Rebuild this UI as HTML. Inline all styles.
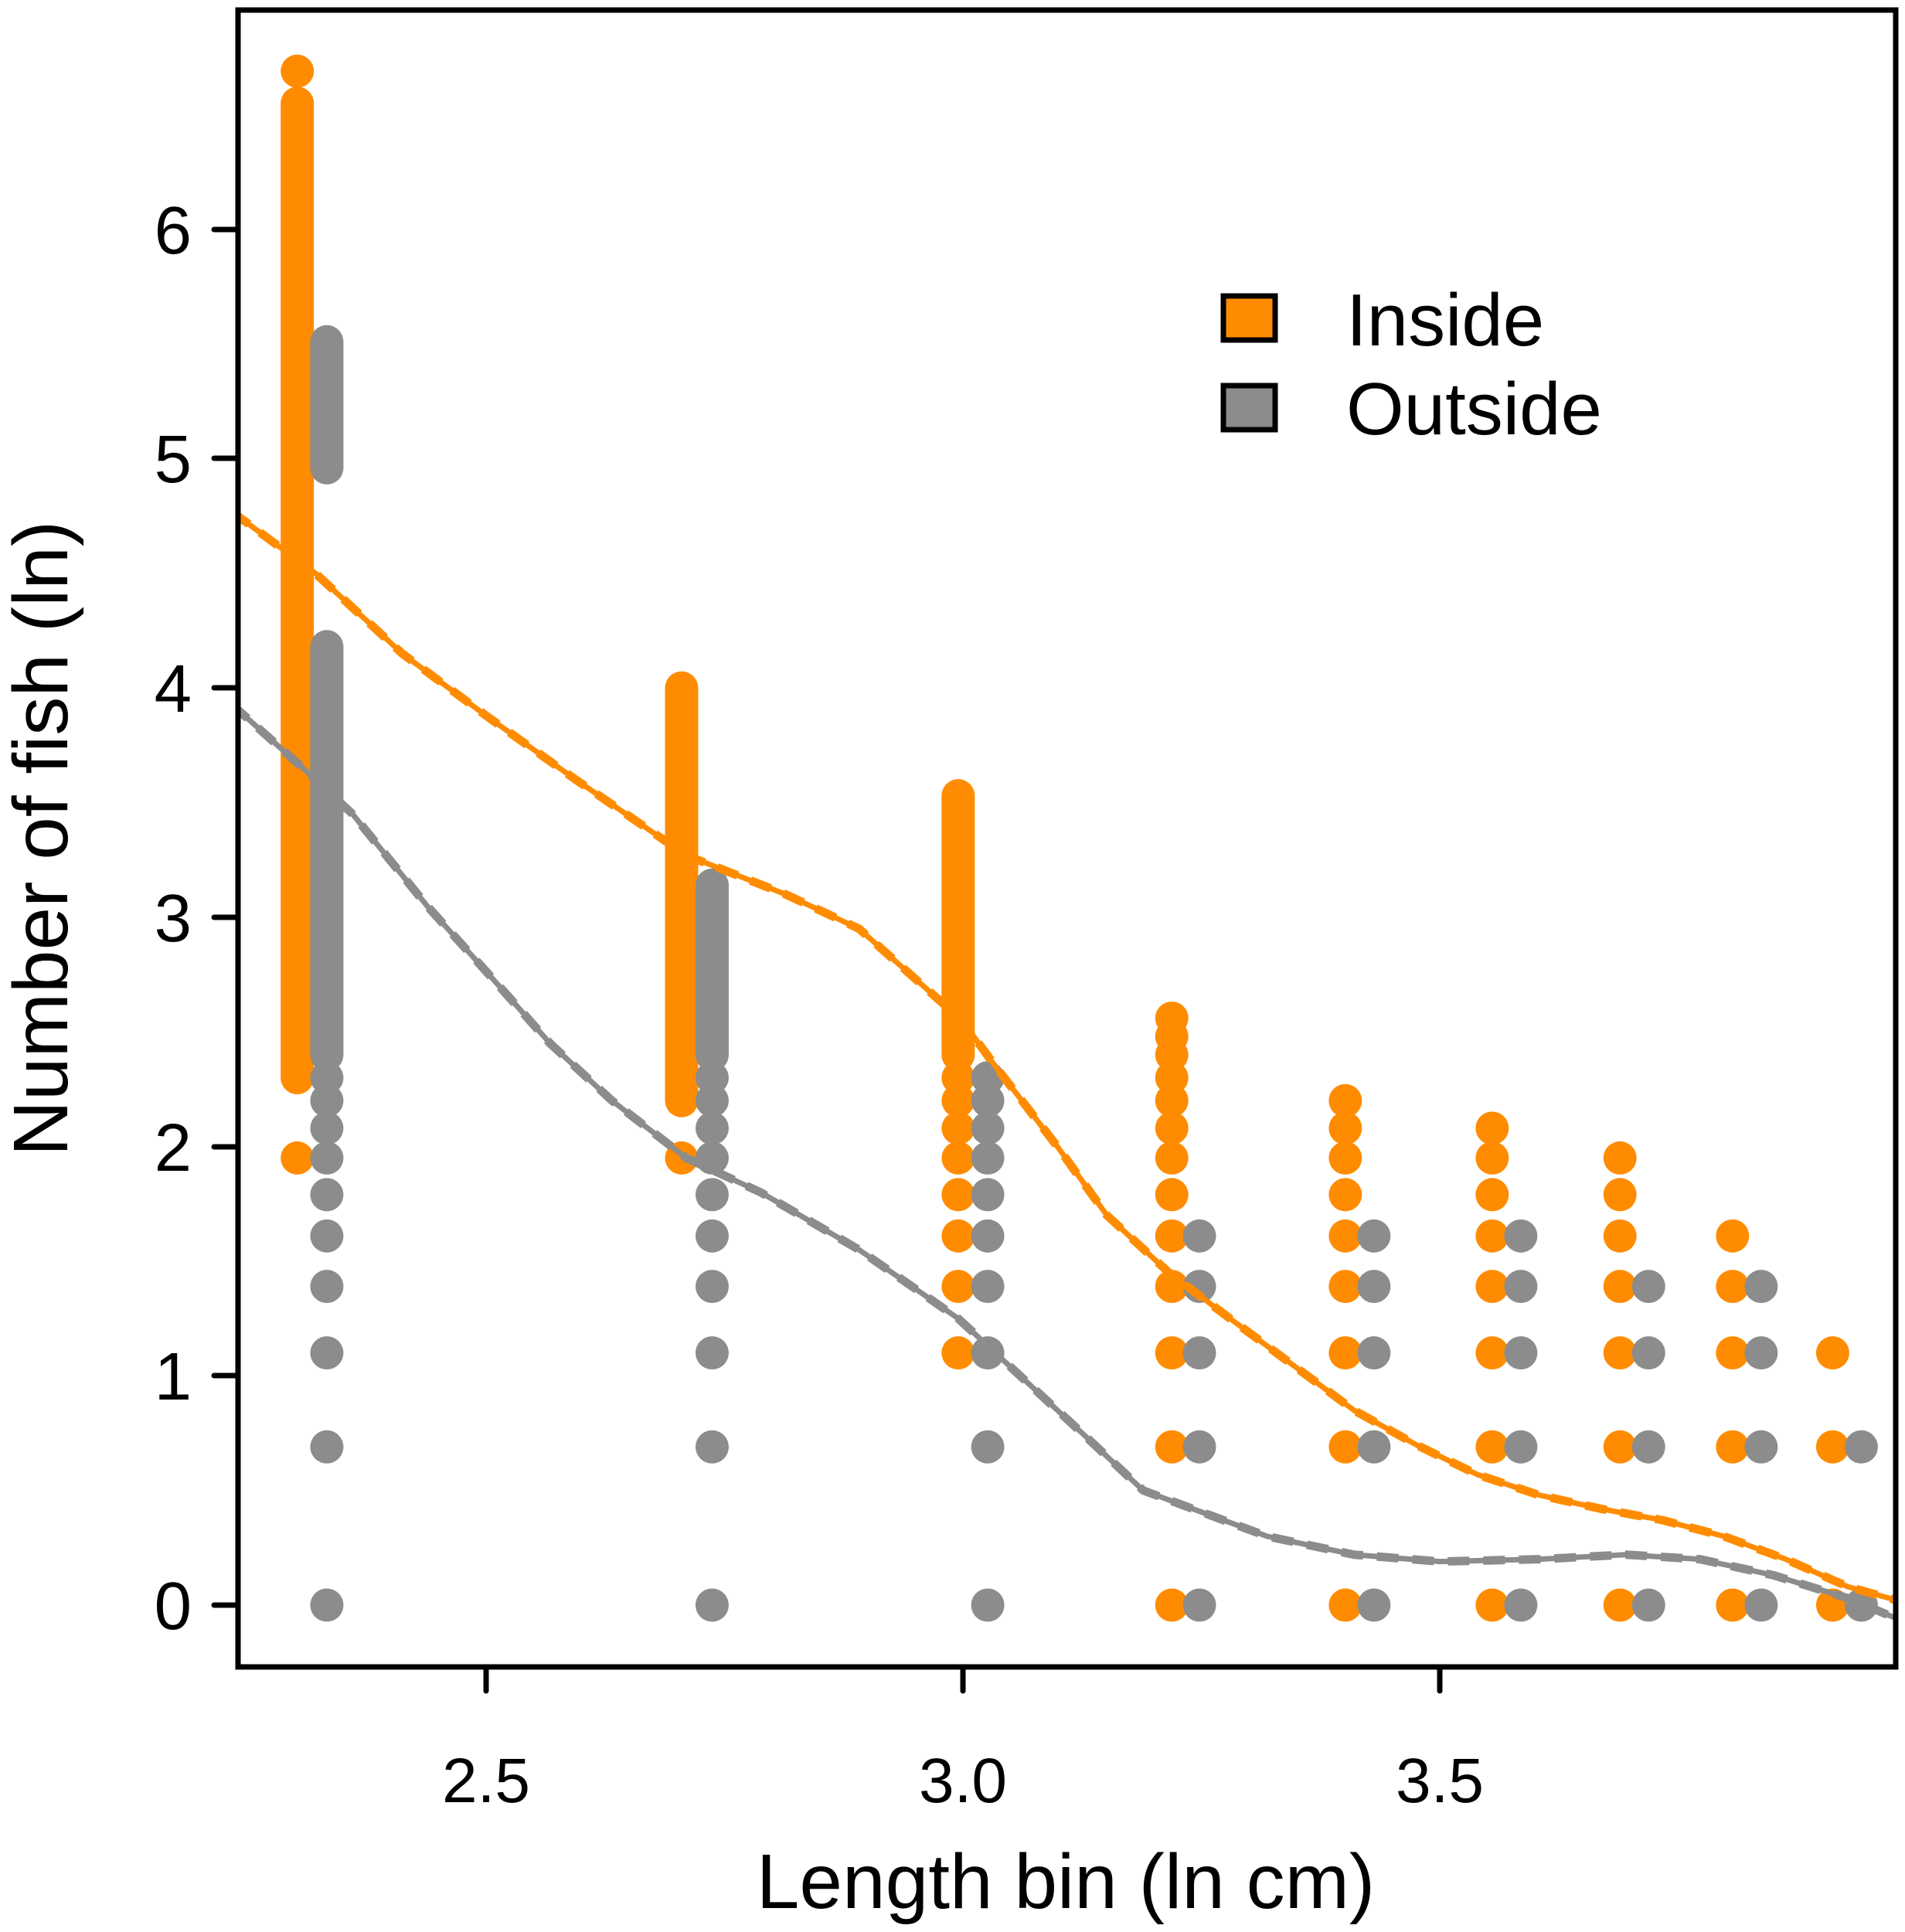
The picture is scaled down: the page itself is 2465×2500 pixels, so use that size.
<!DOCTYPE html>
<html><head><meta charset="utf-8"><style>
html,body{margin:0;padding:0;background:#fff;}
svg{display:block;}
text{font-family:"Liberation Sans",Arial,sans-serif;fill:#000;}
</style></head><body>
<svg width="2465" height="2500" viewBox="0 0 2465 2500" xmlns="http://www.w3.org/2000/svg">
<defs><clipPath id="c"><rect x="308" y="13" width="2145" height="2144"/></clipPath></defs>
<rect width="2465" height="2500" fill="#fff"/>
<g clip-path="url(#c)">
<g transform="matrix(1234 0 0 -296.7 -2456 2077)" fill="none" stroke-linecap="round">
<!-- orange points -->
<g stroke="#FF8C00">
<path vector-effect="non-scaling-stroke" stroke-width="43" d="M2.302 2.3 L2.302 6.55 M2.302 6.69 L2.302 6.69 M2.302 1.95 L2.302 1.95
M2.705 2.2 L2.705 4.0 M2.705 1.95 L2.705 1.95
M2.995 2.4 L2.995 3.53 M2.995 2.3 L2.995 2.3 M2.995 2.2 L2.995 2.2 M2.995 2.08 L2.995 2.08 M2.995 1.95 L2.995 1.95 M2.995 1.79 L2.995 1.79 M2.995 1.61 L2.995 1.61 M2.995 1.39 L2.995 1.39 M2.995 1.1 L2.995 1.1
M3.219 2.56 L3.219 2.56 M3.219 2.48 L3.219 2.48 M3.219 2.4 L3.219 2.4 M3.219 2.3 L3.219 2.3 M3.219 2.2 L3.219 2.2 M3.219 2.08 L3.219 2.08 M3.219 1.95 L3.219 1.95 M3.219 1.79 L3.219 1.79 M3.219 1.61 L3.219 1.61 M3.219 1.39 L3.219 1.39 M3.219 1.1 L3.219 1.1 M3.219 0.69 L3.219 0.69 M3.219 0 L3.219 0
M3.401 2.2 L3.401 2.2 M3.401 2.08 L3.401 2.08 M3.401 1.95 L3.401 1.95 M3.401 1.79 L3.401 1.79 M3.401 1.61 L3.401 1.61 M3.401 1.39 L3.401 1.39 M3.401 1.1 L3.401 1.1 M3.401 0.69 L3.401 0.69 M3.401 0 L3.401 0
M3.555 2.08 L3.555 2.08 M3.555 1.95 L3.555 1.95 M3.555 1.79 L3.555 1.79 M3.555 1.61 L3.555 1.61 M3.555 1.39 L3.555 1.39 M3.555 1.1 L3.555 1.1 M3.555 0.69 L3.555 0.69 M3.555 0 L3.555 0
M3.689 1.95 L3.689 1.95 M3.689 1.79 L3.689 1.79 M3.689 1.61 L3.689 1.61 M3.689 1.39 L3.689 1.39 M3.689 1.1 L3.689 1.1 M3.689 0.69 L3.689 0.69 M3.689 0 L3.689 0
M3.807 1.61 L3.807 1.61 M3.807 1.39 L3.807 1.39 M3.807 1.1 L3.807 1.1 M3.807 0.69 L3.807 0.69 M3.807 0 L3.807 0
M3.912 1.1 L3.912 1.1 M3.912 0.69 L3.912 0.69 M3.912 0 L3.912 0"/>
</g>
<!-- gray points -->
<g stroke="#8C8C8C">
<path vector-effect="non-scaling-stroke" stroke-width="43" d="M2.333 4.96 L2.333 5.51 M2.333 2.4 L2.333 4.18 M2.333 2.3 L2.333 2.3 M2.333 2.2 L2.333 2.2 M2.333 2.08 L2.333 2.08 M2.333 1.95 L2.333 1.95 M2.333 1.79 L2.333 1.79 M2.333 1.61 L2.333 1.61 M2.333 1.39 L2.333 1.39 M2.333 1.1 L2.333 1.1 M2.333 0.69 L2.333 0.69 M2.333 0 L2.333 0
M2.737 2.4 L2.737 3.14 M2.737 2.3 L2.737 2.3 M2.737 2.2 L2.737 2.2 M2.737 2.08 L2.737 2.08 M2.737 1.95 L2.737 1.95 M2.737 1.79 L2.737 1.79 M2.737 1.61 L2.737 1.61 M2.737 1.39 L2.737 1.39 M2.737 1.1 L2.737 1.1 M2.737 0.69 L2.737 0.69 M2.737 0 L2.737 0
M3.026 2.3 L3.026 2.3 M3.026 2.2 L3.026 2.2 M3.026 2.08 L3.026 2.08 M3.026 1.95 L3.026 1.95 M3.026 1.79 L3.026 1.79 M3.026 1.61 L3.026 1.61 M3.026 1.39 L3.026 1.39 M3.026 1.1 L3.026 1.1 M3.026 0.69 L3.026 0.69 M3.026 0 L3.026 0
M3.248 1.61 L3.248 1.61 M3.248 1.39 L3.248 1.39 M3.248 1.1 L3.248 1.1 M3.248 0.69 L3.248 0.69 M3.248 0 L3.248 0
M3.431 1.61 L3.431 1.61 M3.431 1.39 L3.431 1.39 M3.431 1.1 L3.431 1.1 M3.431 0.69 L3.431 0.69 M3.431 0 L3.431 0
M3.585 1.61 L3.585 1.61 M3.585 1.39 L3.585 1.39 M3.585 1.1 L3.585 1.1 M3.585 0.69 L3.585 0.69 M3.585 0 L3.585 0
M3.719 1.39 L3.719 1.39 M3.719 1.1 L3.719 1.1 M3.719 0.69 L3.719 0.69 M3.719 0 L3.719 0
M3.837 1.39 L3.837 1.39 M3.837 1.1 L3.837 1.1 M3.837 0.69 L3.837 0.69 M3.837 0 L3.837 0
M3.942 0.69 L3.942 0.69 M3.942 0 L3.942 0"/>
</g>
<!-- curves -->
<g stroke-linejoin="round">
<path vector-effect="non-scaling-stroke" stroke="#FF8C00" stroke-width="7" d="M2.233 4.77 L2.321 4.5 L2.412 4.15 L2.503 3.87 L2.594 3.6 L2.710 3.27 L2.814 3.1 L2.891 2.95 L2.999 2.55 L3.034 2.35 L3.099 2.0 L3.151 1.7 L3.216 1.45 L3.280 1.25 L3.345 1.05 L3.410 0.85 L3.475 0.7 L3.539 0.57 L3.604 0.48 L3.669 0.42 L3.734 0.37 L3.798 0.3 L3.863 0.2 L3.928 0.08 L3.98 0.02"/>
<path vector-effect="non-scaling-stroke" stroke="#FF8C00" stroke-width="11" stroke-dasharray="28 18" stroke-linecap="butt" d="M2.233 4.77 L2.321 4.5 L2.412 4.15 L2.503 3.87 L2.594 3.6 L2.710 3.27 L2.814 3.1 L2.891 2.95 L2.999 2.55 L3.034 2.35 L3.099 2.0 L3.151 1.7 L3.216 1.45 L3.280 1.25 L3.345 1.05 L3.410 0.85 L3.475 0.7 L3.539 0.57 L3.604 0.48 L3.669 0.42 L3.734 0.37 L3.798 0.3 L3.863 0.2 L3.928 0.08 L3.98 0.02"/>
<path vector-effect="non-scaling-stroke" stroke="#8C8C8C" stroke-width="7" d="M2.233 3.93 L2.308 3.65 L2.360 3.45 L2.438 3.05 L2.503 2.75 L2.567 2.45 L2.632 2.2 L2.710 1.95 L2.788 1.8 L2.891 1.55 L2.995 1.25 L3.060 1.0 L3.125 0.75 L3.189 0.5 L3.254 0.4 L3.319 0.3 L3.410 0.22 L3.500 0.19 L3.604 0.2 L3.695 0.22 L3.773 0.2 L3.850 0.13 L3.928 0.03 L3.98 -0.06"/>
<path vector-effect="non-scaling-stroke" stroke="#8C8C8C" stroke-width="11" stroke-dasharray="28 18" stroke-linecap="butt" d="M2.233 3.93 L2.308 3.65 L2.360 3.45 L2.438 3.05 L2.503 2.75 L2.567 2.45 L2.632 2.2 L2.710 1.95 L2.788 1.8 L2.891 1.55 L2.995 1.25 L3.060 1.0 L3.125 0.75 L3.189 0.5 L3.254 0.4 L3.319 0.3 L3.410 0.22 L3.500 0.19 L3.604 0.2 L3.695 0.22 L3.773 0.2 L3.850 0.13 L3.928 0.03 L3.98 -0.06"/>
</g>
</g>
</g>
<!-- frame -->
<rect x="308" y="13" width="2145" height="2144" fill="none" stroke="#000" stroke-width="7"/>
<!-- y ticks -->
<g stroke="#000" stroke-width="7" stroke-linecap="round">
<line x1="277" y1="2077" x2="308" y2="2077"/>
<line x1="277" y1="1780" x2="308" y2="1780"/>
<line x1="277" y1="1484" x2="308" y2="1484"/>
<line x1="277" y1="1187" x2="308" y2="1187"/>
<line x1="277" y1="890" x2="308" y2="890"/>
<line x1="277" y1="593" x2="308" y2="593"/>
<line x1="277" y1="297" x2="308" y2="297"/>
<line x1="629" y1="2157" x2="629" y2="2188"/>
<line x1="1246" y1="2157" x2="1246" y2="2188"/>
<line x1="1863" y1="2157" x2="1863" y2="2188"/>
</g>
<g font-size="87" text-anchor="end">
<text x="248" y="2108">0</text>
<text x="248" y="1811">1</text>
<text x="248" y="1515">2</text>
<text x="248" y="1218">3</text>
<text x="248" y="921">4</text>
<text x="248" y="624">5</text>
<text x="248" y="328">6</text>
</g>
<g font-size="82" text-anchor="middle">
<text x="629" y="2332">2.5</text>
<text x="1246" y="2332">3.0</text>
<text x="1863" y="2332">3.5</text>
</g>
<text x="1379" y="2469" font-size="100" text-anchor="middle">Length bin (ln cm)</text>
<text transform="translate(87 1085) rotate(-90)" font-size="100" text-anchor="middle">Number of fish (ln)</text>
<!-- legend -->
<rect x="1583" y="383" width="67" height="57" fill="#FF8C00" stroke="#000" stroke-width="7"/>
<rect x="1583" y="499" width="67" height="57" fill="#8C8C8C" stroke="#000" stroke-width="7"/>
<text x="1742" y="447" font-size="96">Inside</text>
<text x="1742" y="562" font-size="96">Outside</text>
</svg>
</body></html>
